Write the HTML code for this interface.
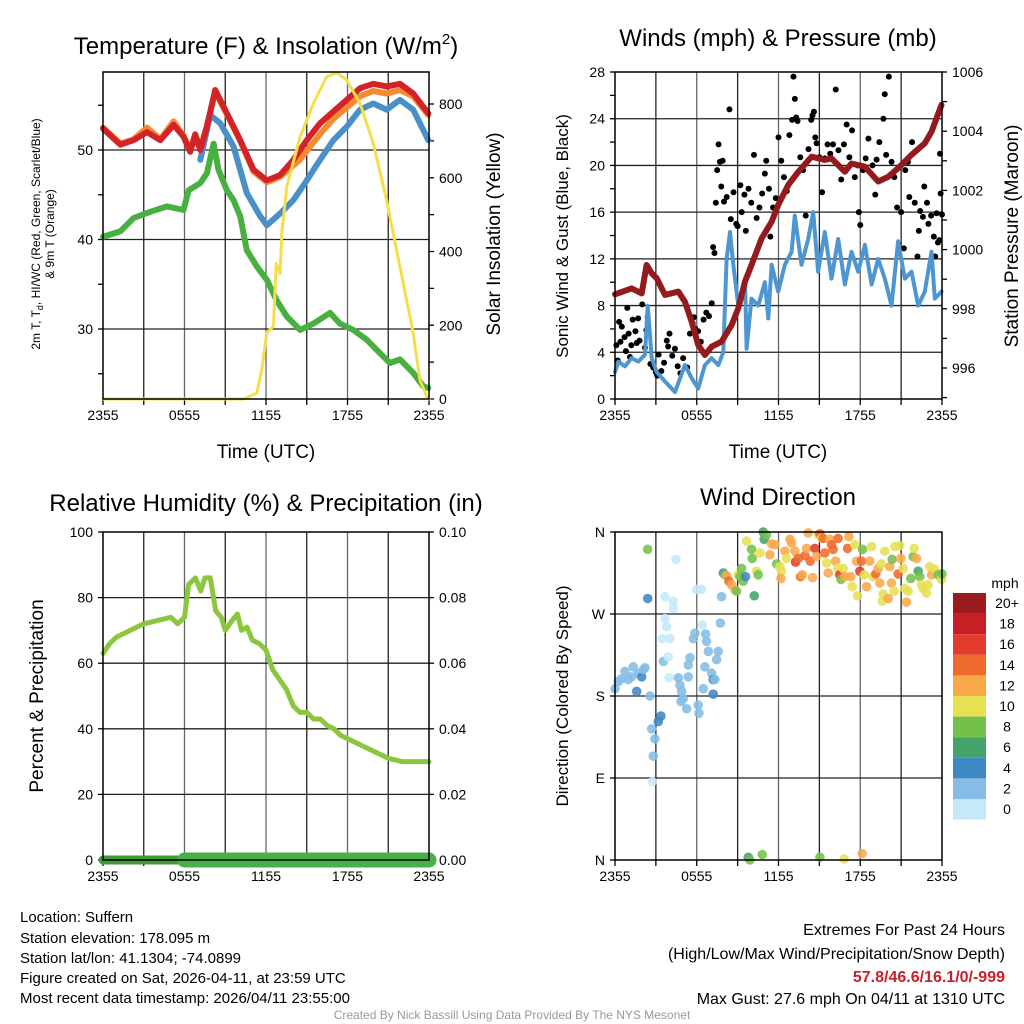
<!DOCTYPE html>
<html><head><meta charset="utf-8"><style>
body{margin:0;background:#fff;}
svg{display:block;font-family:"Liberation Sans",sans-serif;}
</style></head><body>
<svg id="s" width="1024" height="1024" viewBox="0 0 1024 1024">
<g id="g"></g>
<text x="266" y="54" font-size="24" text-anchor="middle">Temperature (F) &amp; Insolation (W/m<tspan font-size="15" dy="-10">2</tspan><tspan dy="10">)</tspan></text>
<text x="778" y="46" font-size="24" text-anchor="middle">Winds (mph) &amp; Pressure (mb)</text>
<text x="266" y="511" font-size="24" text-anchor="middle">Relative Humidity (%) &amp; Precipitation (in)</text>
<text x="778" y="505" font-size="24" text-anchor="middle">Wind Direction</text>
<text x="266" y="458" font-size="19" text-anchor="middle">Time (UTC)</text>
<text x="778" y="458" font-size="19" text-anchor="middle">Time (UTC)</text>
<text transform="translate(40,234) rotate(-90)" font-size="12" text-anchor="middle">2m T, T<tspan font-size="9" dy="3">d</tspan><tspan dy="-3">, HI/WC (Red, Green, Scarlet/Blue)</tspan></text>
<text transform="translate(54,234) rotate(-90)" font-size="12" text-anchor="middle">&amp; 9m T (Orange)</text>
<text transform="translate(500,234) rotate(-90)" font-size="19" text-anchor="middle">Solar Insolation (Yellow)</text>
<text transform="translate(568,236) rotate(-90)" font-size="17" text-anchor="middle">Sonic Wind &amp; Gust (Blue, Black)</text>
<text transform="translate(1018,236) rotate(-90)" font-size="19" text-anchor="middle">Station Pressure (Maroon)</text>
<text transform="translate(43,696) rotate(-90)" font-size="19" text-anchor="middle">Percent &amp; Precipitation</text>
<text transform="translate(568,696) rotate(-90)" font-size="17" text-anchor="middle">Direction (Colored By Speed)</text>
<g font-size="15">
<text x="20" y="922">Location: Suffern</text>
<text x="20" y="943">Station elevation: 178.095 m</text>
<text x="20" y="963">Station lat/lon: 41.1304; -74.0899</text>
<text x="20" y="983">Figure created on Sat, 2026-04-11, at 23:59 UTC</text>
<text x="20" y="1003">Most recent data timestamp: 2026/04/11 23:55:00</text>
</g>
<g font-size="16" text-anchor="end">
<text x="1005" y="935">Extremes For Past 24 Hours</text>
<text x="1005" y="959">(High/Low/Max Wind/Precipitation/Snow Depth)</text>
<text x="1005" y="982" fill="#c8202a" font-weight="bold">57.8/46.6/16.1/0/-999</text>
<text x="1005" y="1004">Max Gust: 27.6 mph On 04/11 at 1310 UTC</text>
</g>
<text x="512" y="1019" font-size="12" fill="#999" text-anchor="middle">Created By Nick Bassill Using Data Provided By The NYS Mesonet</text>
</svg>
<script>
// ---- data ----
const xTickLabels=["2355","0555","1155","1755","2355"];
const redH=[0,1.27,2.25,3.24,4.22,5.2,5.93,6.42,6.79,7.16,7.65,8.26,9.12,10.1,11.08,12.06,13.04,14.02,15.0,15.98,16.96,17.94,18.92,19.9,20.88,21.86,22.84,23.95];
const redT=[52.4,50.6,51.1,52.0,51.1,52.8,51.5,49.8,51.7,50.0,52.6,56.7,54.1,51.1,47.8,46.6,47.2,48.9,51.1,53.0,54.3,55.6,56.9,57.4,57.1,57.4,56.3,54.1];
const orangeH=[0,1.27,2.25,3.24,4.22,5.2,5.93,6.42,6.79,7.16,7.65,8.26,9.12,10.1,11.08,12.06,13.04,14.49,15.98,16.96,18.92,19.9,20.88,21.86,22.84,23.95];
const orangeT=[52.5,50.7,51.2,52.5,51.2,53.2,51.6,49.9,51.8,50.1,52.7,56.5,54.0,51.0,47.6,46.4,47.0,48.9,51.8,53.5,56.0,56.6,56.3,56.7,56.0,53.9];
const blueH=[7.16,7.89,8.63,9.61,10.59,11.57,12.06,13.04,14.02,15.0,15.98,16.96,17.94,18.92,19.9,20.88,21.86,22.84,23.95];
const blueT=[48.9,53.9,53.0,50.4,45.2,42.6,41.6,42.9,44.4,46.6,48.9,51.1,52.6,54.5,55.2,54.5,55.6,54.5,51.1];
const dewH=[0,1.27,2.25,3.48,4.71,5.93,6.3,7.16,7.65,8.14,8.5,9.12,9.61,10.1,10.59,11.32,12.06,12.79,13.53,14.51,15.49,16.72,17.45,18.43,19.41,20.39,21.13,21.86,22.84,23.58,23.95];
const dewT=[40.3,40.9,42.4,43.1,43.7,43.3,45.5,46.3,47.4,50.7,47.8,45.5,44.4,42.6,38.8,37,35.5,33.2,31.4,29.9,30.6,31.8,30.6,29.9,28.8,27.3,26.2,26.6,25.1,23.6,23.4];
const solH=[0,10.34,11.32,11.69,12.06,12.55,12.75,13.04,13.16,13.53,14.51,15.49,16.47,17.2,17.94,18.92,19.9,20.88,21.86,22.84,23.33,23.82,24];
const solW=[0,0,16,80,180,197,368,340,450,576,711,802,874,885,865,802,693,540,359,179,52,7,0];
const presH=[0,1.22,1.96,2.32,2.69,3.06,3.67,4.65,5.13,5.62,6.11,6.6,7.09,7.82,8.56,9.05,9.54,10.02,10.76,11.49,11.98,12.71,13.45,14.43,15.4,15.89,16.87,17.36,18.34,19.32,20.05,20.78,21.76,22.74,23.23,23.96];
const presMb=[998.49,998.69,998.52,999.48,999.2,999.03,998.47,998.58,998.24,997.57,996.78,996.44,996.72,996.89,997.45,998.02,998.92,999.48,1000.38,1000.94,1001.51,1002.18,1002.63,1003.14,1003.03,1003.08,1002.63,1002.91,1002.8,1002.3,1002.46,1002.75,1003.2,1003.59,1003.98,1004.89];
const windH=[0,0.24,0.73,1.22,1.71,2.2,2.4,2.69,3.06,3.67,4.4,5.13,5.62,6.11,6.6,7.09,7.58,7.95,8.19,8.44,8.68,9.05,9.54,9.66,10.02,10.51,11.0,11.25,11.49,11.98,12.47,12.96,13.2,13.69,14.18,14.55,14.91,15.4,15.89,16.38,16.87,17.36,17.85,18.34,18.83,19.32,19.8,20.29,20.78,21.27,21.76,22.25,22.74,23.23,23.47,23.96];
const windMph=[2.3,3.2,2.8,3.5,3.2,3.8,8.0,3.5,2.3,1.5,0.6,2.9,1.8,0.9,2.9,3.5,2.9,4.0,12.0,14.3,11.5,8.0,10.3,4.3,8.6,8.0,10.0,6.9,11.5,9.2,11.5,12.6,15.7,11.5,13.7,16.0,10.9,14.3,10.3,13.7,9.8,12.6,10.9,13.2,9.8,12.0,10.3,8.0,13.5,10.3,10.9,8.0,9.2,12.6,8.6,9.2];
const gustH=[0.1,0.2,0.3,0.4,0.5,0.7,0.8,0.9,1.0,1.1,1.2,1.3,1.5,1.6,1.7,1.8,2.0,2.2,2.3,2.4,2.6,2.8,3.0,3.1,3.2,3.4,3.6,3.8,3.9,4.0,4.2,4.4,4.6,4.8,5.0,5.3,5.5,5.7,5.8,5.9,6.1,6.3,6.5,6.7,6.9,7.1,7.2,7.3,7.4,7.5,7.6,7.7,7.8,7.9,8.0,8.2,8.4,8.5,8.7,8.9,9.0,9.2,9.3,9.5,9.6,9.8,10.0,10.2,10.4,10.6,10.8,11.0,11.1,11.3,11.4,11.6,11.8,12.0,12.2,12.4,12.6,12.8,13.0,13.1,13.2,13.3,13.4,13.6,13.8,14.0,14.2,14.4,14.5,14.6,14.7,14.8,15.0,15.2,15.4,15.6,15.8,16.0,16.2,16.4,16.6,16.8,17.0,17.2,17.4,17.6,17.8,17.9,18.0,18.2,18.4,18.6,18.9,19.1,19.2,19.4,19.7,19.8,19.9,20.1,20.3,20.5,20.7,21.0,21.2,21.3,21.5,21.6,21.8,22.0,22.2,22.3,22.4,22.6,22.7,22.9,23.0,23.2,23.4,23.5,23.6,23.7,23.8,23.85,23.9,24.0];
const gustMph=[4.6,3.3,6.6,4.9,6.2,5.3,4.1,7.8,5.6,3.6,4.6,6.8,5.8,4.8,6.9,5.0,8.1,4.4,5.9,7.0,3.0,2.7,2.3,2.0,3.8,2.4,3.1,5.0,4.5,5.6,3.7,4.3,2.8,2.2,3.5,2.7,5.6,6.5,7.0,6.0,5.8,4.9,6.8,7.4,7.1,8.2,13.0,12.5,16.8,19.6,21.8,20.3,18.2,20.4,16.9,17.3,24.8,15.4,17.7,15.0,14.8,18.3,16.0,17.5,14.4,18.0,16.8,20.9,15.5,16.4,17.6,19.3,20.4,18.0,13.9,16.4,17.2,22.4,20.4,19.0,17.8,22.6,23.9,27.6,25.7,24.1,23.8,20.7,19.6,15.7,21.4,23.9,24.3,24.6,22.4,21.9,20.7,17.7,20.6,21.8,21.0,21.8,26.5,21.3,18.8,21.8,23.5,20.7,23.0,19.0,20.0,16.0,14.9,19.6,20.6,22.3,20.0,17.5,20.5,22.0,24.0,26.1,20.9,27.6,20.3,19.0,16.4,16.0,12.9,19.6,20.3,17.3,22.0,16.8,12.2,14.4,16.1,15.6,18.2,16.8,15.0,15.7,13.9,12.2,15.9,13.4,13.6,21.0,17.6,15.8];
const rhH=[0,0.5,1,2,3,4,5,5.5,6,6.3,6.8,7.2,7.5,7.9,8.3,8.7,9,9.5,9.9,10.2,10.6,11,11.5,12,12.5,13,13.5,14,14.5,15,15.5,16,16.5,17,17.5,18,18.5,19,20,21,22,23,24];
const rhPct=[63,66,68,70,72,73,74,72,74,84,86,82,86,86,76,74,70,73,75,70,71,67,66,64,58,55,52,47,45,45,43,43,41,40,38,37,36,35,33,31,30,30,30];
const precipH=[0,6,24];
const precipIn=[0,0,0];
const dirH=[0.0,0.24,0.49,0.73,0.98,1.22,1.34,1.59,1.71,1.96,2.08,2.2,2.57,2.4,2.4,2.69,2.93,2.81,2.74,3.18,3.37,3.55,3.67,3.79,3.67,3.91,3.47,4.03,4.28,4.28,4.47,3.96,4.65,4.77,4.89,5.01,4.84,5.26,5.38,5.5,5.38,5.75,5.87,5.99,6.36,6.41,6.11,6.16,6.48,6.6,6.65,6.72,6.85,7.09,7.21,7.21,7.33,7.46,7.58,7.73,7.82,7.95,
8.07,8.19,8.36,8.56,8.8,8.92,9.05,9.17,9.29,9.41,9.58,9.66,10.02,10.07,10.22,10.39,10.51,10.64,10.88,10.95,11.12,11.37,11.49,11.74,11.86,12.1,12.22,12.18,12.47,12.59,12.84,12.96,13.2,13.25,13.45,13.62,13.74,13.94,14.06,14.18,14.33,14.5,14.67,14.79,14.91,15.04,15.16,15.28,15.4,15.53,15.65,15.77,15.89,16.01,16.19,16.33,16.38,16.5,16.58,16.75,16.87,17.07,17.16,17.31,17.41,17.6,17.73,17.8,17.97,18.09,18.17,18.29,18.46,18.7,18.83,18.95,19.14,19.32,19.44,19.56,19.68,19.8,19.61,20.05,20.17,20.29,20.34,20.49,20.54,20.78,20.9,20.98,21.15,21.27,21.39,21.52,21.71,21.88,21.96,22.13,22.25,22.37,22.49,22.62,22.86,22.98,23.1,23.23,23.47,23.72,23.96,24.0,
9.78,9.9,10.81,15.04,16.82,18.14];
const dirDeg=[188,196,199,207,198,201,212,185,205,201,209,211,180,287,341,144,133,114,86,152,158,218,265,256,289,223,243,243,276,284,330,200,200,192,185,177,174,166,201,222,214,243,249,297,297,258,170,161,188,212,248,240,229,205,198,182,198,220,229,260,289,315,
313,312,306,302,297,295,313,311,320,306,311,350,341,331,290,317,313,337,360,352,357,335,347,346,325,322,317,309,339,331,352,348,339,327,331,311,313,334,342,359,328,310,342,333,357,358,353,353,337,326,315,352,346,341,328,320,353,313,308,320,311,342,355,311,300,346,328,290,317,328,341,313,300,328,344,311,314,320,304,325,292,339,284,287,322,304,330,295,344,314,345,331,320,298,283,295,309,333,342,331,317,311,302,298,293,302,322,313,319,313,308,314,
3,0,6,3,1,7];
const dirSpd=[2,2,2,2,2,2,2,4,2,4,2,2,2,4,8,2,2,2,0,4,4,2,0,0,0,0,0,0,0,0,0,0,2,2,2,2,2,2,2,2,2,2,2,0,0,0,2,2,2,2,2,2,2,2,4,4,2,2,2,2,2,4,
8,12,14,12,12,8,10,8,8,8,4,10,8,8,6,10,8,10,6,6,8,12,12,12,8,10,10,12,12,10,12,12,12,16,14,14,12,14,12,12,14,12,16,12,10,14,10,14,14,10,12,12,14,14,12,10,14,16,8,10,12,14,12,12,10,10,12,10,16,14,8,10,12,12,10,10,14,12,12,10,10,10,10,12,12,12,8,10,10,14,10,12,10,10,12,10,8,8,10,12,6,8,10,10,10,10,10,12,10,8,10,8,
6,8,8,8,10,12];
const cbLabels=["20+","18","16","14","12","10","8","6","4","2","0"];
const cbColors=["#9b1c1f","#c52026","#e33b2d","#f0692d","#f9a94a","#e6e053","#74c14a","#44a36b","#3f88c5","#85bde6","#c6e9fa"];

// ---- drawing ----
const NS="http://www.w3.org/2000/svg", G=document.getElementById('g');
function el(t,a,p){const e=document.createElementNS(NS,t);for(const k in a)e.setAttribute(k,a[k]);(p||G).appendChild(e);return e;}
function lin(d0,d1,r0,r1){return v=>r0+(v-d0)/(d1-d0)*(r1-r0);}
function panel(name,L,R,T,B){
  const g=el('g',{});
  
  
  return {g,L,R,T,B,x:lin(0,24,L,R)};
}
function frame(p,hy){
  for(let i=1;i<8;i++){const X=p.x(i*3);const l=el('line',{x1:X,x2:X,y1:p.T,y2:p.B,stroke:i%2?'#222':'#666','stroke-width':1.3},p.g);}
  hy.forEach(Y=>{const l=el('line',{x1:p.L,x2:p.R,y1:Y,y2:Y,stroke:'#222','stroke-width':1.3},p.g);});
  for(let i=0;i<=8;i++){el('line',{x1:p.x(i*3),x2:p.x(i*3),y1:p.B,y2:p.B+6,stroke:'#000','stroke-width':1.3},p.g);}
  xTickLabels.forEach((s,i)=>{const t=el('text',{x:p.x(i*6),y:p.B+21,'font-size':14,'text-anchor':'middle'},p.g);t.textContent=s;});
}
function border(p){const r=el('rect',{x:p.L,y:p.T,width:p.R-p.L,height:p.B-p.T,fill:'none',stroke:'#000','stroke-width':1.5},p.g);}
function yTicks(p,vals,labels,fy,side){
  vals.forEach((v,i)=>{const Y=fy(v);
    const X=side==='L'?p.L:p.R;
    el('line',{x1:X,x2:side==='L'?X-5:X+5,y1:Y,y2:Y,stroke:'#000','stroke-width':1.3},p.g);
    if(labels[i]!==''){const t=el('text',{x:side==='L'?X-10:X+10,y:Y+5,'font-size':14,'text-anchor':side==='L'?'end':'start'},p.g);t.textContent=labels[i];}
  });
}
function line(p,H,V,fy,col,w,name){const d=H.map((h,i)=>(i?'L':'M')+p.x(h).toFixed(1)+','+fy(V[i]).toFixed(1)).join('');
  const e=el('path',{d,fill:'none',stroke:col,'stroke-width':w,'stroke-linejoin':'round','stroke-linecap':'round'},p.g);return e;}

// Panel 1
const p1=panel('temperature-panel',103,429,72,399);
const t1=lin(30,50,329,150), s1=lin(0,800,399,104);
frame(p1,[t1(30),t1(40),t1(50)]);
yTicks(p1,[25,30,35,40,45,50,55],['','30','','40','','50',''],t1,'L');
yTicks(p1,[0,100,200,300,400,500,600,700,800],['0','','200','','400','','600','','800'],s1,'R');
line(p1,orangeH,orangeT,t1,'#f58a30',6,'series-9m-temp');
line(p1,blueH,blueT,t1,'#4a90c8',6,'series-hi-wc');
line(p1,redH,redT,t1,'#d42328',6,'series-2m-temp');
line(p1,dewH,dewT,t1,'#48b040',6,'series-dewpoint');
line(p1,solH,solW,s1,'#f6de4a',3,'series-insolation');
border(p1);

// Panel 2
const p2=panel('winds-panel',615,942,72,399);
const w2=lin(0,28,399,72), pr2=lin(996,1006,368,72);
frame(p2,[4,8,12,16,20,24].map(w2));
yTicks(p2,[0,2,4,6,8,10,12,14,16,18,20,22,24,26,28],['0','','4','','8','','12','','16','','20','','24','','28'],w2,'L');
yTicks(p2,[995,996,997,998,999,1000,1001,1002,1003,1004,1005,1006],['','996','','998','','1000','','1002','','1004','','1006'],pr2,'R');
gustH.forEach((h,i)=>{const c=el('circle',{cx:p2.x(h),cy:w2(gustMph[i]),r:3,fill:'#000'},p2.g);});
line(p2,windH,windMph,w2,'#4d96d2',4,'series-sonic-wind');
line(p2,presH,presMb,pr2,'#951a1d',6,'series-pressure');
border(p2);

// Panel 3
const p3=panel('humidity-panel',103,429,532,860);
const r3=lin(0,100,860,532), pc3=lin(0,0.1,860,532);
frame(p3,[20,40,60,80].map(r3));
yTicks(p3,[0,20,40,60,80,100],['0','20','40','60','80','100'],r3,'L');
yTicks(p3,[0,0.02,0.04,0.06,0.08,0.1],['0.00','0.02','0.04','0.06','0.08','0.10'],pc3,'R');
line(p3,rhH,rhPct,r3,'#8cc63f',5,'series-relative-humidity');
line(p3,precipH.slice(0,2),precipIn.slice(0,2),pc3,'#3f9a3a',9,'series-precip-early');
line(p3,precipH.slice(1),precipIn.slice(1),pc3,'#47b047',15,'series-precipitation');
border(p3);

// Panel 4
const p4=panel('wind-direction-panel',615,942,532,860);
const d4=lin(0,360,860,532);
frame(p4,[90,180,270].map(d4));
yTicks(p4,[0,90,180,270,360],['N','E','S','W','N'],d4,'L');
function spdColor(s){const idx=Math.min(10,Math.floor(s/2));return cbColors[10-idx];}
dirH.forEach((h,i)=>{const c=el('circle',{cx:p4.x(h),cy:d4(Math.min(360,dirDeg[i])),r:4.8,fill:spdColor(dirSpd[i]),'fill-opacity':0.88},p4.g);});
border(p4);

// colorbar
const cb=el('g',{});


const mt=el('text',{x:1005,y:588,'font-size':14,'text-anchor':'middle'},cb);mt.textContent='mph';
cbLabels.forEach((s,i)=>{const y=593+i*20.6;
  const r=el('rect',{x:953,y:y,width:33,height:20.6,fill:cbColors[i]},cb);
  const t=el('text',{x:1007,y:y+15,'font-size':14,'text-anchor':'middle'},cb);t.textContent=s;});
</script>
</body></html>
